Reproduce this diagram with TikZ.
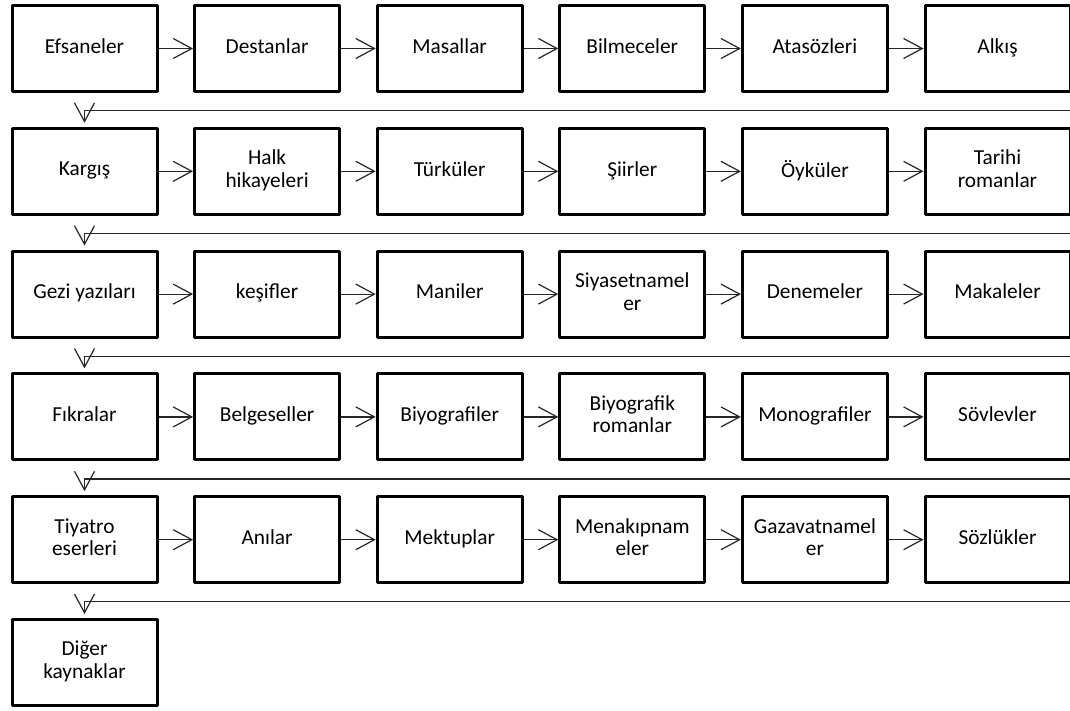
\documentclass[tikz,border=0pt]{standalone}
\usepackage{fontspec}
\setmainfont{Carlito}
\usetikzlibrary{arrows.meta}
\newcommand\boxstrut{\rule[-4pt]{0pt}{12.5pt}}
\begin{document}
\begin{tikzpicture}[x=0.75pt,y=-0.75pt,line join=round,
  box/.style={draw,line width=2.25pt,minimum width=108.75pt,minimum height=64.5pt,
    inner sep=1pt,align=center,font=\fontsize{16}{17}\selectfont,
    execute at begin node=\boxstrut,execute at end node=\boxstrut},
  conn/.style={draw=black!85,line width=0.9pt,-{Straight Barb[length=14pt,width=15pt]}}]
  \clip (0,0) rectangle (1070,710);
  % row 1
  \node[box] (a1) at (84.5,48.5)  {Efsaneler};
  \node[box] (a2) at (267.1,48.5) {Destanlar};
  \node[box] (a3) at (449.7,48.5) {Masallar};
  \node[box] (a4) at (632.3,48.5) {Bilmeceler};
  \node[box] (a5) at (814.9,48.5) {Atasözleri};
  \node[box] (a6) at (997.5,48.5) {Alkış};
  % row 2
  \node[box] (b1) at (84.5,171.3)  {Kargış};
  \node[box] (b2) at (267.1,171.3) {Halk\\hikayeleri};
  \node[box] (b3) at (449.7,171.3) {Türküler};
  \node[box] (b4) at (632.3,171.3) {Şiirler};
  \node[box] (b5) at (814.9,171.3) {Öyküler};
  \node[box] (b6) at (997.5,171.3) {Tarihi\\romanlar};
  % row 3
  \node[box] (c1) at (84.5,294.1)  {Gezi yazıları};
  \node[box] (c2) at (267.1,294.1) {keşifler};
  \node[box] (c3) at (449.7,294.1) {Maniler};
  \node[box] (c4) at (632.3,294.1) {Siyasetnamel\\er};
  \node[box] (c5) at (814.9,294.1) {Denemeler};
  \node[box] (c6) at (997.5,294.1) {Makaleler};
  % row 4
  \node[box] (d1) at (84.5,416.9)  {Fıkralar};
  \node[box] (d2) at (267.1,416.9) {Belgeseller};
  \node[box] (d3) at (449.7,416.9) {Biyografiler};
  \node[box] (d4) at (632.3,416.9) {Biyografik\\romanlar};
  \node[box] (d5) at (814.9,416.9) {Monografiler};
  \node[box] (d6) at (997.5,416.9) {Sövlevler};
  % row 5
  \node[box] (e1) at (84.5,539.7)  {Tiyatro\\eserleri};
  \node[box] (e2) at (267.1,539.7) {Anılar};
  \node[box] (e3) at (449.7,539.7) {Mektuplar};
  \node[box] (e4) at (632.3,539.7) {Menakıpnam\\eler};
  \node[box] (e5) at (814.9,539.7) {Gazavatnamel\\er};
  \node[box] (e6) at (997.5,539.7) {Sözlükler};
  % row 6
  \node[box] (f1) at (84.5,662.5) {Diğer\\kaynaklar};

  \foreach \r in {a,b,c,d,e}
    \foreach \i/\j in {1/2,2/3,3/4,4/5,5/6}
      \draw[conn] (\r\i.east) -- (\r\j.west);

  % returns from the right edge
  \coordinate (ra) at (1075,110.5);
  \coordinate (rb) at (1075,233.3);
  \coordinate (rc) at (1075,356.1);
  \coordinate (rd) at (1075,478.9);
  \coordinate (re) at (1075,601.7);
  \draw[conn,shorten >=3pt] (ra) -| (b1);
  \draw[conn,shorten >=3pt] (rb) -| (c1);
  \draw[conn,shorten >=3pt] (rc) -| (d1);
  \draw[conn,shorten >=3pt] (rd) -| (e1);
  \draw[conn,shorten >=3pt] (re) -| (f1);
\end{tikzpicture}
\end{document}
